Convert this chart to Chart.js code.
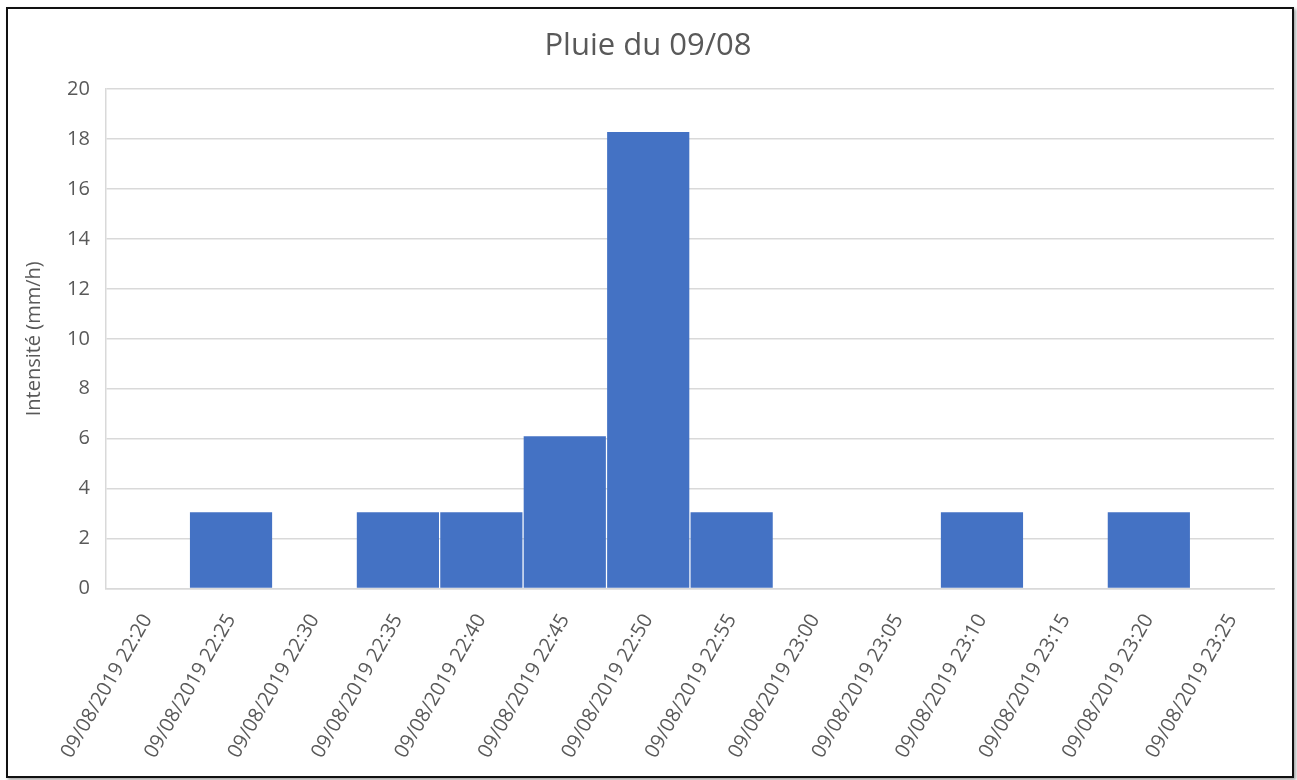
<!DOCTYPE html>
<html>
<head>
<meta charset="utf-8">
<title>Pluie du 09/08</title>
<script src="https://cdn.jsdelivr.net/npm/chart.js@4/dist/chart.umd.min.js"></script>
<style>
    html, body { margin: 0; padding: 0; background: #fff; }
    #frame {
        position: absolute;
        left: 6px;
        top: 7px;
        width: 1284px;
        height: 767px;
        border: 2px solid #111;
        box-shadow: 2px 2px 3px rgba(0, 0, 0, 0.35);
        background: #fff;
    }
    #frame canvas { display: block; }
</style>
</head>
<body>
<div id="frame">
    <canvas id="rainChart" width="1284" height="767"></canvas>
</div>
<script>
// 5-minute intervals of the 09/08/2019 storm
const timeLabels = [
    '09/08/2019 22:20', '09/08/2019 22:25', '09/08/2019 22:30', '09/08/2019 22:35',
    '09/08/2019 22:40', '09/08/2019 22:45', '09/08/2019 22:50', '09/08/2019 22:55',
    '09/08/2019 23:00', '09/08/2019 23:05', '09/08/2019 23:10', '09/08/2019 23:15',
    '09/08/2019 23:20', '09/08/2019 23:25'
];

// intensity in mm/h (one bucket tip = 0.254 mm per 5 min = 3.048 mm/h)
const intensity = [0, 3.048, 0, 3.048, 3.048, 6.096, 18.288, 3.048, 0, 0, 3.048, 0, 3.048, 0];

const yMin = 0;
const yMax = 20;
const yStep = 2;

const textColor = '#595959';
const gridColor = '#d9d9d9';
const fontFamily = '"Open Sans", "Liberation Sans", sans-serif';

const ctx = document.getElementById('rainChart').getContext('2d');
new Chart(ctx, {
    type: 'bar',
    data: {
        labels: timeLabels,
        datasets: [{
            label: 'Intensité (mm/h)',
            data: intensity,
            backgroundColor: '#4472C4',
            borderWidth: 0,
            barPercentage: 0.985,
            categoryPercentage: 1
        }]
    },
    options: {
        responsive: false,
        animation: false,
        layout: {
            padding: { left: 14, right: 18, top: 4, bottom: 0 }
        },
        plugins: {
            legend: { display: false },
            tooltip: { enabled: false },
            title: {
                display: true,
                text: 'Pluie du 09/08',
                color: textColor,
                font: { family: fontFamily, size: 31, weight: 'normal' },
                padding: { top: 15, bottom: 24 }
            }
        },
        scales: {
            x: {
                grid: { display: false },
                border: { display: true, color: gridColor, width: 1.5 },
                ticks: {
                    color: textColor,
                    font: { family: fontFamily, size: 20 },
                    minRotation: 60,
                    maxRotation: 60,
                    autoSkip: false,
                    padding: 13.5
                }
            },
            y: {
                min: yMin,
                max: yMax,
                grid: { color: gridColor, lineWidth: 1.5, drawTicks: false },
                border: { display: true, color: gridColor, width: 1.5 },
                ticks: {
                    stepSize: yStep,
                    color: textColor,
                    font: { family: fontFamily, size: 20 },
                    padding: 16
                },
                title: {
                    display: true,
                    text: 'Intensité (mm/h)',
                    color: textColor,
                    font: { family: fontFamily, size: 20 },
                    padding: { top: 0, bottom: 5 }
                }
            }
        }
    }
});
</script>
</body>
</html>
